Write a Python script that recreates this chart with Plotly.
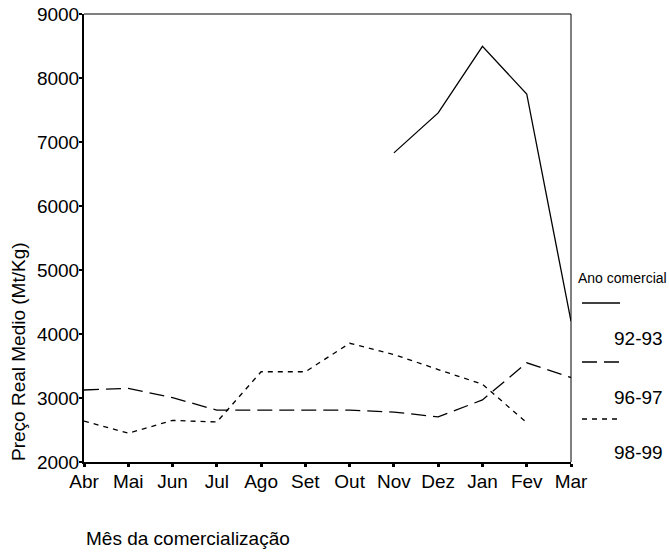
import plotly.graph_objects as go

months = ["Abr", "Mai", "Jun", "Jul", "Ago", "Set", "Out", "Nov", "Dez", "Jan", "Fev", "Mar"]
series_names = ["92-93", "96-97", "98-99"]
s92_93 = [None, None, None, None, None, None, None, 6830, 7455, 8495, 7750, 4200]
s96_97 = [3125, 3150, 3005, 2810, 2810, 2810, 2810, 2780, 2705, 2970, 3550, 3320]
s98_99 = [2640, 2450, 2650, 2625, 3410, 3410, 3855, 3680, 3445, 3215, 2615, None]
y_ticks = [2000, 3000, 4000, 5000, 6000, 7000, 8000, 9000]

W, H = 669, 556
ML, MT = 84, 14
PW, PH = 487, 448
MR, MB = W - ML - PW, H - MT - PH
FONT = "Liberation Sans, Arial, sans-serif"
FS = 19

def px_x(p):
    return (p - ML) / PW

def px_y(p):
    return (MT + PH - p) / PH

dashes = ["solid", "15px,7px", "5px,5px"]
data = [s92_93, s96_97, s98_99]

fig = go.Figure()
for name, vals, d in zip(series_names, data, dashes):
    fig.add_trace(go.Scatter(x=months, y=vals, mode="lines", name=name,
                             line=dict(color="black", width=1.3, dash=d),
                             connectgaps=False, showlegend=False, hoverinfo="skip"))

fig.update_layout(
    width=W, height=H,
    margin=dict(l=ML, r=MR, t=MT, b=MB, autoexpand=False),
    paper_bgcolor="white", plot_bgcolor="white",
    font=dict(family=FONT, size=FS, color="black"),
    xaxis=dict(type="category", categoryorder="array", categoryarray=months,
               range=[0, len(months) - 1], showgrid=False, zeroline=False,
               showline=True, linewidth=2, linecolor="black", automargin=False,
               ticks="outside", ticklen=3, tickwidth=3, tickcolor="black",
               tickfont=dict(size=FS, family=FONT), ticklabeloverflow="allow",
               ticklabelstandoff=-2),
    yaxis=dict(range=[2000, 9000], tickvals=y_ticks, showgrid=False, zeroline=False,
               showline=True, linewidth=2, linecolor="black", automargin=False,
               ticks="outside", ticklen=3, tickwidth=2, tickcolor="black",
               tickfont=dict(size=FS, family=FONT), ticklabelstandoff=-4,
               ticklabeloverflow="allow"),
)

# top and right frame lines
fig.add_shape(type="line", xref="paper", yref="paper", x0=0, x1=1, y0=1, y1=1,
              line=dict(color="black", width=1))
fig.add_shape(type="line", xref="paper", yref="paper", x0=1, x1=1, y0=0, y1=1,
              line=dict(color="black", width=1))

# axis titles
fig.add_annotation(text="Preço Real Medio (Mt/Kg)", xref="paper", yref="paper",
                   x=px_x(18), y=px_y(352), textangle=-90, showarrow=False,
                   font=dict(size=FS, family=FONT), xanchor="center", yanchor="middle")
fig.add_annotation(text="Mês da comercialização", xref="paper", yref="paper",
                   x=px_x(84), y=px_y(538), showarrow=False,
                   font=dict(size=FS, family=FONT), xanchor="left", yanchor="middle")

# legend
fig.add_annotation(text="Ano comercial", xref="paper", yref="paper",
                   x=px_x(576), y=px_y(278), showarrow=False,
                   font=dict(size=14, family=FONT), xanchor="left", yanchor="middle")
sample_y = [303, 362, 419]
label_y = [338, 397, 452]
for name, d, sy, ly in zip(series_names, dashes, sample_y, label_y):
    fig.add_shape(type="line", xref="paper", yref="paper",
                  x0=px_x(582), x1=px_x(620), y0=px_y(sy), y1=px_y(sy),
                  line=dict(color="black", width=1.3, dash=d))
    fig.add_annotation(text=name, xref="paper", yref="paper",
                       x=px_x(612), y=px_y(ly), showarrow=False,
                       font=dict(size=FS, family=FONT), xanchor="left", yanchor="middle")

fig.write_html("out.html", config={"displayModeBar": False},
               post_script="document.body.style.margin='0px';")
